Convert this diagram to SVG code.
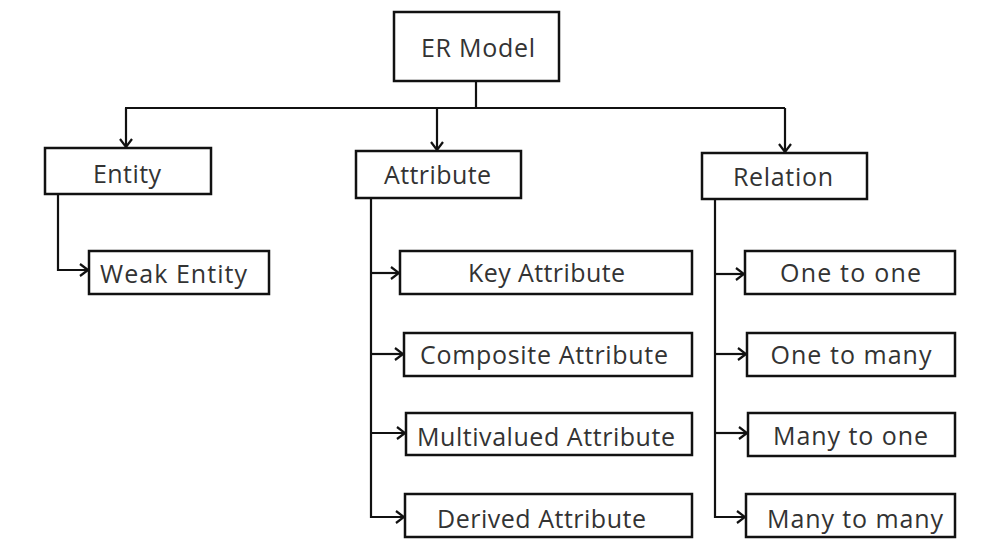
<svg xmlns="http://www.w3.org/2000/svg" width="994" height="558" viewBox="0 0 994 558">
<style>
.box{fill:#fff;stroke:#111;stroke-width:2.5}
.t{font-family:"Open Sans","Liberation Sans",sans-serif;font-size:25px;fill:#333;text-anchor:middle}
.c{fill:none;stroke:#111;stroke-width:2.2}
</style>
<defs>
<marker id="ah" viewBox="0 0 10 14" refX="9" refY="7" markerWidth="10" markerHeight="14" markerUnits="userSpaceOnUse" orient="auto">
<path d="M1,1 L9,7 L1,13" fill="none" stroke="#111" stroke-width="2.2"/>
</marker>
</defs>
<rect width="994" height="558" fill="#fff"/>
<g id="connectors">
<path class="c" d="M476,81 V108"/>
<path class="c" d="M125,108 H785"/>
<path class="c" d="M126,108 V147" marker-end="url(#ah)"/>
<path class="c" d="M437,108 V150" marker-end="url(#ah)"/>
<path class="c" d="M785,108 V152" marker-end="url(#ah)"/>
<path class="c" d="M58,194 V270 H88" marker-end="url(#ah)"/>
<path class="c" d="M371,198 V517 H404" marker-end="url(#ah)"/>
<path class="c" d="M371,273 H399" marker-end="url(#ah)"/>
<path class="c" d="M371,354 H403" marker-end="url(#ah)"/>
<path class="c" d="M371,433 H405" marker-end="url(#ah)"/>
<path class="c" d="M715,199 V517 H745" marker-end="url(#ah)"/>
<path class="c" d="M715,274 H744" marker-end="url(#ah)"/>
<path class="c" d="M715,354 H746" marker-end="url(#ah)"/>
<path class="c" d="M715,433 H747" marker-end="url(#ah)"/>
</g>
<g id="er-model"><rect class="box" x="394" y="12" width="165" height="69"/><text class="t" x="478" y="57" textLength="114">ER Model</text></g>
<g id="entity"><rect class="box" x="45" y="148" width="166" height="46"/><text class="t" x="127" y="183" textLength="68">Entity</text></g>
<g id="attribute"><rect class="box" x="356" y="151" width="165" height="47"/><text class="t" x="437.5" y="184" textLength="107">Attribute</text></g>
<g id="relation"><rect class="box" x="702" y="153" width="165" height="46"/><text class="t" x="783" y="186" textLength="100">Relation</text></g>
<g id="weak-entity"><rect class="box" x="89" y="251" width="180" height="43"/><text class="t" x="173.5" y="283" textLength="147">Weak Entity</text></g>
<g id="key-attribute"><rect class="box" x="400" y="251" width="292" height="43"/><text class="t" x="546.5" y="282" textLength="157">Key Attribute</text></g>
<g id="composite-attribute"><rect class="box" x="404" y="333" width="288" height="43"/><text class="t" x="544" y="364" textLength="248">Composite Attribute</text></g>
<g id="multivalued-attribute"><rect class="box" x="406" y="413" width="286" height="42"/><text class="t" x="546" y="446" textLength="258">Multivalued Attribute</text></g>
<g id="derived-attribute"><rect class="box" x="405" y="494" width="287" height="43"/><text class="t" x="541.5" y="528" textLength="209">Derived Attribute</text></g>
<g id="one-to-one"><rect class="box" x="745" y="251" width="210" height="43"/><text class="t" x="850.5" y="282" textLength="141">One to one</text></g>
<g id="one-to-many"><rect class="box" x="747" y="333" width="208" height="43"/><text class="t" x="851" y="364" textLength="161">One to many</text></g>
<g id="many-to-one"><rect class="box" x="748" y="413" width="207" height="43"/><text class="t" x="850.5" y="445" textLength="155">Many to one</text></g>
<g id="many-to-many"><rect class="box" x="746" y="494" width="209" height="43"/><text class="t" x="855" y="528" textLength="176">Many to many</text></g>
</svg>
